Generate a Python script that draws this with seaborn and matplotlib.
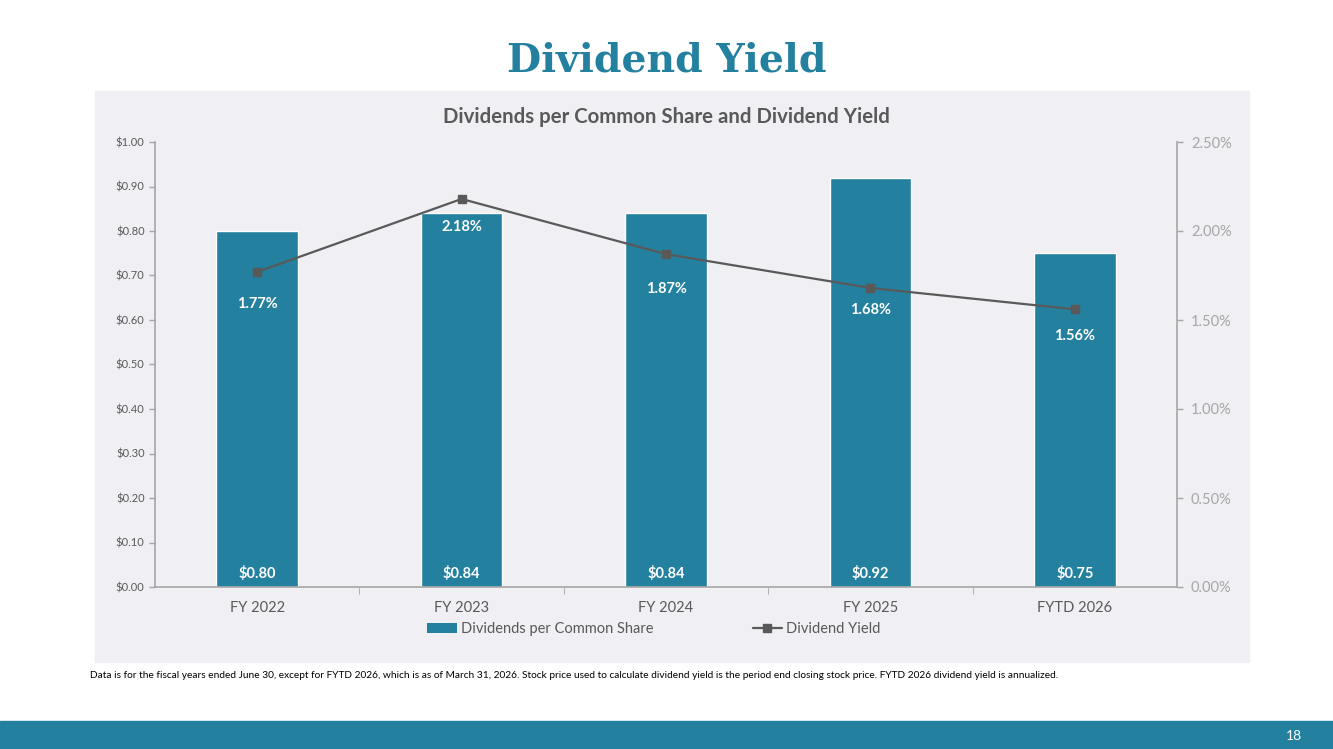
import pandas as pd
import matplotlib
matplotlib.use('Agg')
import matplotlib.pyplot as plt
import seaborn as sns
from matplotlib.patches import Rectangle, Patch
from matplotlib.lines import Line2D
from matplotlib.ticker import FuncFormatter, MultipleLocator

# data
years = ['FY 2022', 'FY 2023', 'FY 2024', 'FY 2025', 'FYTD 2026']
dividends = [0.80, 0.84, 0.84, 0.92, 0.75]
yields = [1.77, 2.18, 1.87, 1.68, 1.56]

# how far below each marker the yield label sits (points)
label_drop = [23, 20, 25, 16, 19]

df = pd.DataFrame({'Year': years, 'Dividend': dividends, 'Yield': yields})

TEAL = '#23809E'
DARK = '#595959'
LIGHT = '#A6A6A6'
PANEL = '#EFEFF4'

sns.set_style('white')
plt.rcParams['font.family'] = ['Lato', 'DejaVu Sans']

fig = plt.figure(figsize=(13.33, 7.49), dpi=100)
W, H = 1333, 749

# grey chart panel + bottom band
fig.patches.append(Rectangle((95 / W, 1 - 662 / H), (1249 - 95) / W, (662 - 91) / H,
                             transform=fig.transFigure, color=PANEL, zorder=-5))
fig.patches.append(Rectangle((0, 0), 1, 28 / H, transform=fig.transFigure,
                             color=TEAL, zorder=-5))

fig.text(667 / W, 1 - 61 / H, 'Dividend Yield', ha='center', va='center',
         fontsize=28.4, fontweight='bold', color=TEAL, family='DejaVu Serif')
fig.text(666 / W, 1 - 117 / H, 'Dividends per Common Share and Dividend Yield',
         ha='center', va='center', fontsize=14.7, fontweight='bold', color=DARK)

ax = fig.add_axes([155 / W, 1 - 587 / H, (1177 - 155) / W, (587 - 142) / H])
ax.set_facecolor('none')
sns.barplot(data=df, x='Year', y='Dividend', color=TEAL, width=0.4,
            saturation=1, ax=ax, zorder=2)
ax.set_xlim(-0.5, len(years) - 0.5)
ax.set_ylim(0, 1.0)
ax.yaxis.set_major_locator(MultipleLocator(0.1))
ax.yaxis.set_major_formatter(FuncFormatter(lambda v, p: f'${v:.2f}'))
ax.set_xlabel('')
ax.set_ylabel('')
for s in ['top', 'right']:
    ax.spines[s].set_visible(False)
for s in ['left', 'bottom']:
    ax.spines[s].set_color(LIGHT)
    ax.spines[s].set_linewidth(1.2)
ax.tick_params(axis='y', labelsize=8, colors=LIGHT, labelcolor=DARK,
               length=4, width=1, direction='out', left=True)
ax.tick_params(axis='x', which='major', length=0, labelsize=10.5,
               labelcolor=DARK, pad=10)
ax.set_xticks([i + 0.5 for i in range(len(years) - 1)], minor=True)
ax.tick_params(axis='x', which='minor', length=5, color=LIGHT, bottom=True)

for i, v in enumerate(dividends):
    ax.text(i, 0.031, f'${v:.2f}', ha='center', va='center', color='white',
            fontsize=10.5, fontweight='bold', zorder=5)

ax2 = ax.twinx()
ax2.plot(range(len(years)), yields, color=DARK, lw=1.6, marker='s',
         markersize=6, zorder=4)
ax2.set_ylim(0, 2.5)
ax2.yaxis.set_major_locator(MultipleLocator(0.5))
ax2.yaxis.set_major_formatter(FuncFormatter(lambda v, p: f'{v:.2f}%'))
for s in ['top', 'left', 'bottom']:
    ax2.spines[s].set_visible(False)
ax2.spines['right'].set_color(LIGHT)
ax2.spines['right'].set_linewidth(1.2)
ax2.tick_params(axis='y', labelsize=10.5, colors=LIGHT, labelcolor=LIGHT,
                length=4, width=1, direction='out', right=True, pad=6)
for i, v in enumerate(yields):
    ax2.annotate(f'{v:.2f}%', (i, v), xytext=(0, -label_drop[i]),
                 textcoords='offset points', ha='center', va='center',
                 color='white', fontsize=10.5, fontweight='bold', zorder=5)

handles = [Patch(facecolor=TEAL, edgecolor='none'),
           Line2D([0], [0], color=DARK, lw=1.6, marker='s', markersize=6)]
fig.legend(handles, ['Dividends per Common Share', 'Dividend Yield'],
           loc='center', bbox_to_anchor=(654 / W, 1 - 629 / H), ncol=2,
           frameon=False, fontsize=10.5, handlelength=2.0, handleheight=0.7,
           handletextpad=0.3, columnspacing=6.8, labelcolor=DARK)

fig.text(90 / W, 1 - 675 / H,
         'Data is for the fiscal years ended June 30, except for FYTD 2026, which is as of '
         'March 31, 2026. Stock price used to calculate dividend yield is the period end '
         'closing stock price. FYTD 2026 dividend yield is annualized.',
         ha='left', va='center', fontsize=7.3, color='black')
fig.text(1294 / W, 1 - 736 / H, '18', ha='center', va='center',
         fontsize=10, color='white')

fig.savefig('out.png', dpi=100)
